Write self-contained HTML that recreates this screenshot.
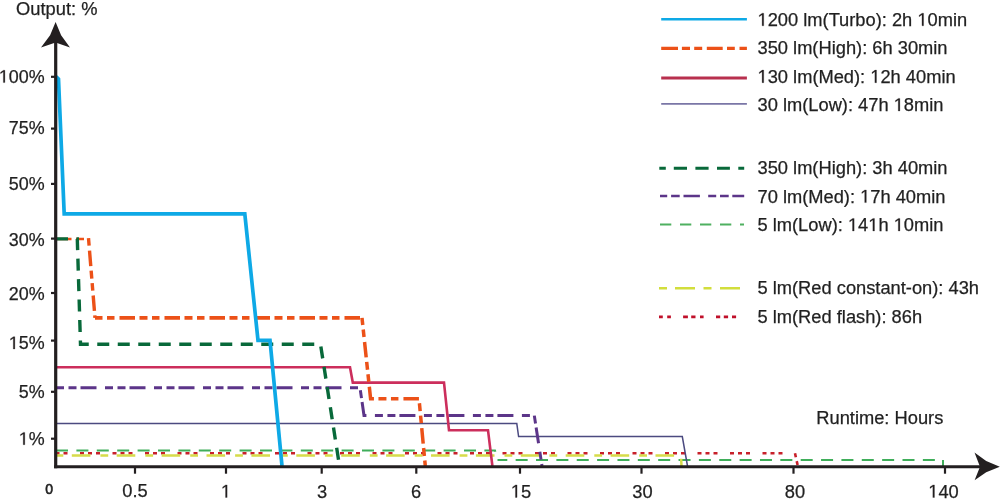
<!DOCTYPE html>
<html><head><meta charset="utf-8"><title>Runtime chart</title>
<style>
html,body{margin:0;padding:0;background:#fff;width:1000px;height:500px;overflow:hidden}
svg{display:block}
.h{fill-opacity:0;stroke-opacity:0}
text{filter:grayscale(1)}
text{font-family:"Liberation Sans",sans-serif;fill:#231f20;stroke:#231f20;stroke-width:0.25px}
</style></head><body>
<svg width="1000" height="500" viewBox="0 0 1000 500">
<rect width="1000" height="500" fill="#fff"/>

<!-- title -->
<text x="16.1" y="14.6" font-size="18.3">Output: %</text>

<!-- y axis labels -->
<g font-size="17.9" text-anchor="end">
<text x="44.6" y="82.6"><tspan class="h">1</tspan>00%</text>
<text x="44.6" y="134.3">75%</text>
<text x="44.6" y="190.1">50%</text>
<text x="44.6" y="245.6">30%</text>
<text x="44.6" y="300.2">20%</text>
<text x="44.6" y="349"><tspan class="h">1</tspan>5%</text>
<text x="44.6" y="398">5%</text>
<text x="44.6" y="444.7"><tspan class="h">1</tspan>%</text>
</g>

<!-- x axis labels -->
<text x="49.2" y="494.4" font-size="14" text-anchor="middle" style="stroke-width:0.6px">0</text>
<g font-size="18.3" text-anchor="middle">
<text x="135" y="497">0.5</text>
<text x="226" y="497.5"><tspan class="h">1</tspan></text>
<text x="322" y="497.5">3</text>
<text x="416" y="497.5">6</text>
<text x="521" y="497.5"><tspan class="h">1</tspan>5</text>
<text x="642.5" y="497.5">30</text>
<text x="795" y="497.5">80</text>
<text x="943.5" y="497.5"><tspan class="h">1</tspan>40</text>
</g>
<text x="816.3" y="424.3" font-size="18.3">Runtime: Hours</text>

<!-- data lines -->
<g fill="none" stroke-linejoin="miter">
<!-- light green 5lm low -->
<polyline points="56,450.5 495,450.5 497.5,459.6" stroke="#3fae5a" stroke-width="2" stroke-dasharray="12 8.4"/>
<polyline points="497.5,459.9 943,459.9 943,466" stroke="#3fae5a" stroke-width="2" stroke-dasharray="12 8.36" stroke-dashoffset="2.2"/>
<!-- red flash -->
<polyline points="56,453.3 795,453.3 797.8,466" stroke="#c8202a" stroke-width="2.6" stroke-dasharray="4 4 4 4 4 12.5" stroke-dashoffset="8.5"/>
<!-- yellow -->
<polyline points="56,455.6 681,455.6 681.5,466" stroke="#d6dc4a" stroke-width="2.5" stroke-dasharray="7.8 8.5 18.6 10" stroke-dashoffset="0.5"/>
<!-- navy 30lm -->
<polyline points="56,423.6 516.8,423.6 518.6,436.6 682.3,436.6 687.5,466" stroke="#4b4a80" stroke-width="1.5"/>
<!-- purple 70lm -->
<polyline points="56,387.7 360,387.7 364,415.5 534.3,415.5 542,466" stroke="#5c3589" stroke-width="3" stroke-dasharray="8 4.5 8 4 16 8.5"/>
<!-- crimson 130lm -->
<polyline points="56,367.3 350,367.3 352.8,382.6 444,382.6 449,430.2 488,430.2 492.4,466" stroke="#cc2e5c" stroke-width="2.6"/>
<!-- orange 350 high -->
<polyline points="56,239 88.5,239" stroke="#ec5118" stroke-width="2.3" stroke-dasharray="8 4.5 7.5 5 15.5 4.5" stroke-dashoffset="25"/>
<polyline points="88.5,238.2 95,317.9" stroke="#ec5118" stroke-width="3.4" stroke-dasharray="8 4.5 7.5 5 15.5 4.5" stroke-dashoffset="12.5"/>
<polyline points="95,317.9 362,317.9" stroke="#ec5118" stroke-width="3.8" stroke-dasharray="8 4.5 7.5 5 15.5 4.5" stroke-dashoffset="0.5"/>
<polyline points="362,317.9 370.6,398.8 419,398.8 425.3,466" stroke="#ec5118" stroke-width="3.5" stroke-dasharray="8 4.5 7.5 5 15.5 4.5" stroke-dashoffset="0.8"/>
<!-- dark green 350 high -->
<polyline points="56,238.9 77.3,238.9 80.5,344.3 320.5,344.3 339.5,466" stroke="#08693a" stroke-width="3.4" stroke-dasharray="12 8.5"/>
<!-- blue turbo -->
<polyline points="56,76.6 58.5,79 64.2,213.8 244.8,213.8 258,340.4 270,340.4 282,466" stroke="#0ea9e6" stroke-width="3.7"/>
</g>

<!-- axes -->
<g stroke="#231f20" fill="none">
<line x1="55.7" y1="40" x2="55.7" y2="468.2" stroke-width="3.2"/>
<line x1="54.1" y1="466.7" x2="982" y2="466.7" stroke-width="3"/>
<g stroke-width="2.2">
<line x1="51" y1="76.8" x2="55" y2="76.8"/>
<line x1="51" y1="128.6" x2="55" y2="128.6"/>
<line x1="51" y1="183.9" x2="55" y2="183.9"/>
<line x1="51" y1="238.6" x2="55" y2="238.6"/>
<line x1="51" y1="293" x2="55" y2="293"/>
<line x1="51" y1="340.6" x2="55" y2="340.6"/>
<line x1="51" y1="391.8" x2="55" y2="391.8"/>
<line x1="51" y1="438.7" x2="55" y2="438.7"/>
<line x1="135" y1="468" x2="135" y2="473.7"/>
<line x1="226" y1="468" x2="226" y2="473.7"/>
<line x1="321.7" y1="468" x2="321.7" y2="473.7"/>
<line x1="416.3" y1="468" x2="416.3" y2="473.7"/>
<line x1="520" y1="468" x2="520" y2="473.7"/>
<line x1="641.5" y1="468" x2="641.5" y2="473.7"/>
<line x1="793.5" y1="468" x2="793.5" y2="473.7"/>
<line x1="945" y1="468" x2="945" y2="473.7"/>
</g>
</g>
<path d="M55.6,22 L61.1,35.3 L70,47.5 L55.6,42.5 L41,47.5 L50.1,35.3 Z" fill="#231f20"/>
<path d="M999.8,466.7 L986.2,461.1 L974.5,452.6 L980,466.7 L974.6,480.3 L986.2,472.3 Z" fill="#231f20"/>

<!-- legend -->
<g fill="none">
<line x1="661.2" y1="19.2" x2="746.9" y2="19.2" stroke="#0ea9e6" stroke-width="2.6"/>
<line x1="661.2" y1="48.4" x2="746.9" y2="48.4" stroke="#ec5118" stroke-width="3.2" stroke-dasharray="16.8 3.9 8.1 4.2 8 4.6 15.9 4.3 7.8 4.7 7.4 50"/>
<line x1="661.2" y1="78" x2="746.9" y2="78" stroke="#b8304e" stroke-width="2.8"/>
<line x1="661.2" y1="103.9" x2="746.9" y2="103.9" stroke="#7a76a6" stroke-width="1.8"/>
<line x1="659.3" y1="168.3" x2="744.2" y2="168.3" stroke="#08693a" stroke-width="3" stroke-dasharray="6.5 8 13.2 8.4 13.2 8.4 12.9 8.4 6 50"/>
<line x1="660" y1="196" x2="744.2" y2="196" stroke="#5c3589" stroke-width="2.5" stroke-dasharray="7.2 3.9 8.6 3.8 16.4 8.3 8 3.8 8.7 3.6 11.9 50"/>
<line x1="660" y1="224.5" x2="744" y2="224.5" stroke="#4fb060" stroke-width="2.2" stroke-dasharray="11.3 8.7"/>
<line x1="659" y1="288.3" x2="740" y2="288.3" stroke="#d2de3c" stroke-width="2.6" stroke-dasharray="8 8 20 8.5 8 8.5 20 50"/>
<line x1="659" y1="316.9" x2="736.1" y2="316.9" stroke="#c0102a" stroke-width="2.6" stroke-dasharray="3.8 4.4 3.7 12.2 4.8 3.3 4.3 4.5 3.6 12.4 4.2 3.6 4.3 3.9 4.1 50"/>
</g>
<g font-size="18.3">
<text x="757.5" y="25.8"><tspan class="h">1</tspan>200 lm(Turbo): 2h <tspan class="h">1</tspan>0min</text>
<text x="757.5" y="54">350 lm(High): 6h 30min</text>
<text x="757.5" y="82.7"><tspan class="h">1</tspan>30 lm(Med): <tspan class="h">1</tspan>2h 40min</text>
<text x="757.5" y="111">30 lm(Low): 47h <tspan class="h">1</tspan>8min</text>
<text x="757.5" y="173.9">350 lm(High): 3h 40min</text>
<text x="757.5" y="202.6">70 lm(Med): <tspan class="h">1</tspan>7h 40min</text>
<text x="757.5" y="231">5 lm(Low): <tspan class="h">1</tspan>4<tspan class="h">1</tspan>h <tspan class="h">1</tspan>0min</text>
<text x="757.5" y="294.2">5 lm(Red constant-on): 43h</text>
<text x="757.5" y="322.8">5 lm(Red flash): 86h</text>
</g>
<path class="one" fill="#231f20" stroke="#231f20" stroke-width="0.25" d="M3.34,82.60 L3.34,71.79 L0.56,73.77 L0.56,72.29 L3.47,70.29 L4.92,70.29 L4.92,82.60Z M13.29,349.00 L13.29,338.19 L10.51,340.17 L10.51,338.69 L13.42,336.69 L14.87,336.69 L14.87,349.00Z M23.23,444.70 L23.23,433.89 L20.45,435.87 L20.45,434.39 L23.36,432.39 L24.81,432.39 L24.81,444.70Z M225.52,497.50 L225.52,486.45 L222.67,488.48 L222.67,486.96 L225.65,484.91 L227.13,484.91 L227.13,497.50Z M515.43,497.50 L515.43,486.45 L512.59,488.48 L512.59,486.96 L515.56,484.91 L517.05,484.91 L517.05,497.50Z M932.84,497.50 L932.84,486.45 L930.00,488.48 L930.00,486.96 L932.98,484.91 L934.46,484.91 L934.46,497.50Z M762.10,25.80 L762.10,14.75 L759.26,16.78 L759.26,15.26 L762.24,13.21 L763.72,13.21 L763.72,25.80Z M921.98,25.80 L921.98,14.75 L919.14,16.78 L919.14,15.26 L922.11,13.21 L923.59,13.21 L923.59,25.80Z M762.10,82.70 L762.10,71.65 L759.26,73.68 L759.26,72.16 L762.24,70.11 L763.72,70.11 L763.72,82.70Z M874.88,82.70 L874.88,71.65 L872.04,73.68 L872.04,72.16 L875.02,70.11 L876.50,70.11 L876.50,82.70Z M898.26,111.00 L898.26,99.95 L895.42,101.98 L895.42,100.46 L898.39,98.41 L899.88,98.41 L899.88,111.00Z M864.71,202.60 L864.71,191.55 L861.87,193.58 L861.87,192.06 L864.85,190.01 L866.33,190.01 L866.33,202.60Z M852.52,231.00 L852.52,219.95 L849.68,221.98 L849.68,220.46 L852.66,218.41 L854.14,218.41 L854.14,231.00Z M872.87,231.00 L872.87,219.95 L870.03,221.98 L870.03,220.46 L873.00,218.41 L874.48,218.41 L874.48,231.00Z M898.29,231.00 L898.29,219.95 L895.45,221.98 L895.45,220.46 L898.42,218.41 L899.91,218.41 L899.91,231.00Z"/>
</svg>
</body></html>
